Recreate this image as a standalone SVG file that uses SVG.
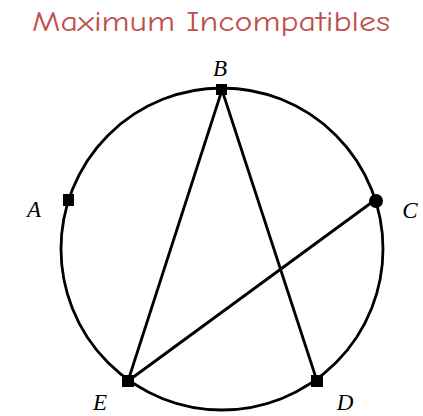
<svg xmlns="http://www.w3.org/2000/svg" width="423" height="416" viewBox="0 0 423 416">
<style>
.title{font-family:"Comic Sans MS","Comic Neue","Open Sans",sans-serif;font-size:29px;fill:#c0504d}
.lbl{font-family:"Liberation Serif",serif;font-style:italic;font-size:23px;fill:#000}
.edge{stroke:#000;stroke-width:2.8;fill:none}
.dot{fill:#000}
</style>
<rect width="423" height="416" fill="#fff"/>
<text class="title" x="211" y="31" text-anchor="middle" textLength="358" lengthAdjust="spacingAndGlyphs">Maximum Incompatibles</text>
<g id="connectors">
<circle class="edge" cx="222" cy="249" r="161"/>
<line class="edge" x1="222" y1="90" x2="128" y2="381"/>
<line class="edge" x1="222" y1="90" x2="317" y2="381"/>
<line class="edge" x1="375" y1="200" x2="128" y2="381"/>
</g>
<g id="B"><rect class="dot" x="216" y="84" width="11" height="11"/><text class="lbl" x="220" y="76" text-anchor="middle">B</text></g>
<g id="A"><rect class="dot" x="63" y="194" width="11" height="12"/><text class="lbl" x="34" y="217" text-anchor="middle">A</text></g>
<g id="C"><circle class="dot" cx="376" cy="201" r="7"/><text class="lbl" x="410" y="218" text-anchor="middle">C</text></g>
<g id="E"><rect class="dot" x="122" y="375" width="12" height="12"/><text class="lbl" x="100" y="410" text-anchor="middle">E</text></g>
<g id="D"><rect class="dot" x="311" y="375" width="12" height="12"/><text class="lbl" x="345" y="410" text-anchor="middle">D</text></g>
</svg>
